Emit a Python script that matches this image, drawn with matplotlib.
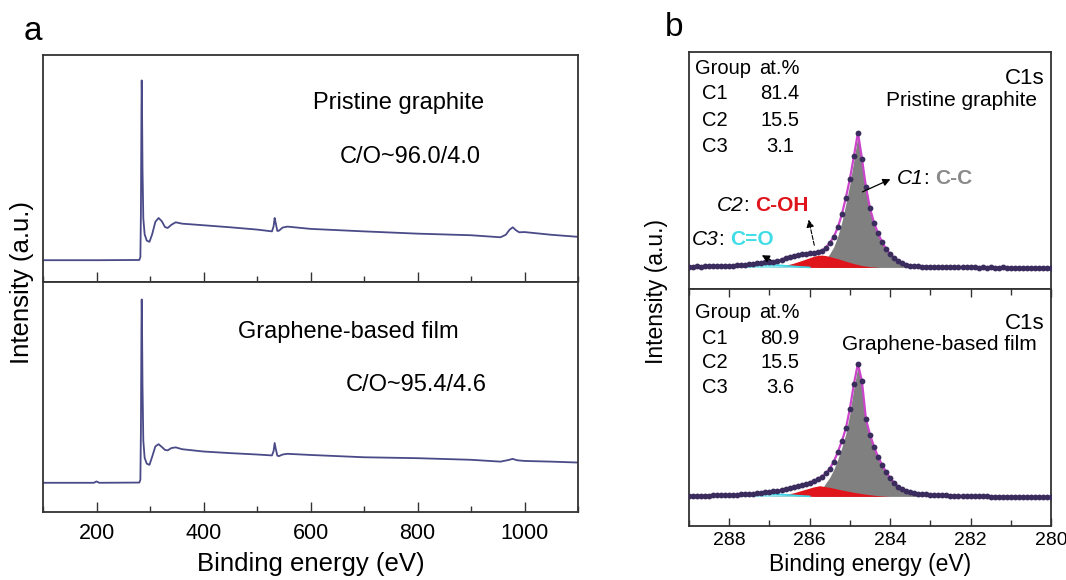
import numpy as np
import matplotlib
matplotlib.use('Agg')
import matplotlib.pyplot as plt
from matplotlib.ticker import MultipleLocator
from matplotlib.offsetbox import TextArea, HPacker, AnnotationBbox

plt.rcParams['font.family'] = ['Liberation Sans', 'DejaVu Sans']

# ---- panel a: survey spectra (intensity in % of panel height) ----
survey_top_ev = [100, 200, 280, 282, 283, 284, 284.5, 285, 286, 287.5, 290, 294, 299, 304, 310,
                 316, 322, 328, 333, 340, 348, 360, 400, 450, 500, 528, 531, 533, 535, 538,
                 541, 548, 557, 600, 700, 800, 900, 955, 965, 972, 978, 984, 990, 1000, 1050, 1100]
survey_top_int = [9.6, 9.6, 9.7, 11.0, 30.0, 75.0, 88.8, 80.0, 50.0, 28.0, 21.0, 18.2, 17.7, 21.0, 26.5,
                  28.2, 26.8, 24.2, 23.8, 25.2, 26.3, 25.7, 25.0, 24.1, 23.1, 22.3, 24.5, 28.2, 26.0, 22.5,
                  22.6, 24.0, 24.4, 23.4, 22.3, 21.3, 20.6, 19.7, 20.8, 23.0, 24.1, 22.8, 21.9, 22.0, 20.8, 19.9]

survey_bot_ev = [100, 195, 200, 205, 280, 282, 283, 284, 284.5, 285, 286, 287.5, 290, 294, 299, 304, 310,
                 316, 322, 328, 333, 340, 348, 360, 400, 450, 500, 528, 531, 533, 535, 538,
                 541, 548, 557, 600, 700, 800, 900, 955, 970, 978, 986, 1000, 1050, 1100]
survey_bot_int = [12.7, 12.7, 13.3, 12.7, 12.8, 14.0, 35.0, 80.0, 92.4, 84.0, 55.0, 31.0, 23.5, 21.0, 20.5, 24.0, 28.5,
                  29.5, 28.3, 27.0, 26.8, 27.8, 28.1, 27.3, 26.3, 25.6, 25.0, 24.6, 26.5, 30.0, 27.5, 24.5,
                  24.3, 25.0, 25.3, 24.8, 23.8, 23.4, 22.7, 21.9, 22.6, 23.1, 22.5, 22.2, 21.9, 21.5]

survey_labels = ['Pristine graphite', 'Graphene-based film']
co_ratios = ['C/O~96.0/4.0', 'C/O~95.4/4.6']

# ---- panel b: C1s high resolution, 289.0 -> 280.0 eV, 0.1 eV step ----
c1s_ev = np.round(np.arange(289.0, 279.95, -0.1), 1)

c1s_top = [9.4, 9.4, 9.5, 9.4, 9.5, 9.6, 9.5, 9.6, 9.7, 9.7,
           9.8, 9.9, 10.0, 10.1, 10.3, 10.4, 10.6, 10.8, 11.0, 11.2,
           11.4, 11.6, 11.9, 12.3, 13.2, 13.6, 14.0, 14.3, 14.6, 14.8,
           15.0, 15.2, 15.5, 16.2, 17.4, 19.5, 22.0, 26.0, 31.5, 38.5,
           46.5, 56.0, 66.0, 55.0, 43.0, 34.0, 28.0, 23.5, 19.8, 17.0,
           14.8, 13.2, 12.0, 11.0, 10.3, 9.9, 9.6, 9.5, 9.4, 9.3,
           9.3, 9.2, 9.3, 9.2, 9.2, 9.1, 9.2, 9.1, 9.1, 9.2,
           9.1, 9.1, 9.0, 9.1, 9.0, 9.1, 9.0, 9.0, 9.1, 9.0,
           9.0, 9.0, 8.9, 9.0, 9.0, 8.9, 9.0, 8.9, 8.9, 9.0,
           8.9]
c1s_bot = [12.7, 12.7, 12.8, 12.7, 12.8, 12.8, 12.9, 12.9, 12.9, 13.0,
           13.0, 13.1, 13.2, 13.3, 13.4, 13.5, 13.7, 13.8, 14.0, 14.2,
           14.4, 14.6, 14.9, 15.2, 15.5, 15.9, 16.3, 16.7, 17.2, 17.7,
           18.3, 19.0, 19.8, 20.8, 22.2, 24.2, 27.2, 31.2, 35.8, 41.2,
           49.5, 60.0, 68.5, 61.0, 45.0, 38.5, 33.5, 29.2, 25.8, 22.8,
           20.3, 18.2, 16.6, 15.5, 14.8, 14.3, 14.0, 13.7, 13.5, 13.3,
           13.2, 13.1, 13.0, 12.9, 12.9, 12.8, 12.8, 12.7, 12.7, 12.6,
           12.6, 12.6, 12.5, 12.5, 12.5, 12.4, 12.4, 12.4, 12.3, 12.3,
           12.3, 12.3, 12.2, 12.2, 12.2, 12.2, 12.1, 12.1, 12.1, 12.1,
           12.1]

bg_top = 9.1
bg_bot = 12.5

# fitted components
c1_top_ev = [285.8, 285.7, 285.6, 285.5, 285.4, 285.3, 285.2, 285.1, 285.0, 284.9, 284.8, 284.7, 284.6,
             284.5, 284.4, 284.3, 284.2, 284.1, 284.0, 283.9, 283.8, 283.7, 283.6, 283.5, 283.4, 283.3]
c1_top = [10.0, 11.0, 12.4, 14.9, 17.8, 22.3, 28.3, 35.9, 44.4, 54.4, 64.8, 54.2, 42.5,
          33.7, 27.9, 23.5, 19.8, 17.0, 14.8, 13.2, 12.0, 11.0, 10.3, 9.8, 9.4, 9.1]
c2_top_ev = [287.0, 286.8, 286.6, 286.4, 286.2, 286.0, 285.9, 285.8, 285.7, 285.6, 285.5, 285.3, 285.1,
             284.9, 284.7, 284.5, 284.3]
c2_top = [9.2, 9.5, 10.0, 10.9, 12.0, 13.2, 13.8, 14.2, 14.3, 14.1, 13.7, 12.8, 11.7,
          10.7, 9.9, 9.4, 9.2]
c3_top_ev = [288.0, 287.7, 287.4, 287.1, 286.9, 286.6, 286.3, 286.0]
c3_top = [9.1, 9.4, 9.8, 10.2, 10.2, 9.8, 9.4, 9.1]

c1_bot_ev = [285.9, 285.8, 285.7, 285.6, 285.5, 285.4, 285.3, 285.2, 285.1, 285.0, 284.9, 284.8, 284.7,
             284.6, 284.5, 284.4, 284.3, 284.2, 284.1, 284.0, 283.9, 283.8, 283.7, 283.6, 283.5, 283.4,
             283.3, 283.2]
c1_bot = [12.8, 13.8, 15.5, 18.1, 20.5, 23.9, 28.2, 33.2, 39.0, 47.6, 58.4, 67.2, 59.9,
          44.2, 37.9, 33.1, 29.0, 25.8, 22.8, 20.3, 18.2, 16.6, 15.5, 14.8, 14.3, 13.6,
          12.9, 12.5]
c2_bot_ev = [287.0, 286.7, 286.4, 286.1, 285.9, 285.75, 285.5, 285.2, 284.9, 284.6, 284.3, 284.0]
c2_bot = [12.6, 13.0, 14.0, 15.5, 16.5, 17.0, 16.3, 15.2, 14.2, 13.4, 12.8, 12.5]
c3_bot_ev = [288.0, 287.7, 287.4, 287.1, 286.9, 286.6, 286.3, 286.0]
c3_bot = [12.5, 12.8, 13.2, 13.5, 13.5, 13.2, 12.8, 12.5]

groups = ['C1', 'C2', 'C3']
at_top = ['81.4', '15.5', '3.1']
at_bot = ['80.9', '15.5', '3.6']

W, H = 1066, 580
fig = plt.figure(figsize=(W / 100, H / 100), dpi=100)


def px_axes(l, t, r, b):
    return fig.add_axes([l / W, 1 - b / H, (r - l) / W, (b - t) / H])


frame_c = '#333333'
line_c = '#4a4a88'


def style_frame(ax):
    for s in ax.spines.values():
        s.set_color(frame_c)
        s.set_linewidth(1.3)
    ax.tick_params(axis='y', left=False, right=False, labelleft=False)


# ---------------- panel a ----------------
axa1 = px_axes(43, 55, 578, 282)
axa2 = px_axes(43, 282, 578, 512)
for ax, ev, it in [(axa1, survey_top_ev, survey_top_int), (axa2, survey_bot_ev, survey_bot_int)]:
    ax.plot(ev, it, color=line_c, lw=1.3)
    ax.set_xlim(100, 1100)
    ax.set_ylim(0, 100)
    style_frame(ax)
    ax.xaxis.set_major_locator(MultipleLocator(200))
    ax.xaxis.set_minor_locator(MultipleLocator(100))
    ax.tick_params(axis='x', which='both', direction='in', top=False, bottom=True,
                   color=frame_c, width=1.0)
    ax.tick_params(axis='x', which='major', length=7)
    ax.tick_params(axis='x', which='minor', length=4)

axa1.tick_params(axis='x', labelbottom=False)
axa2.tick_params(axis='x', labelsize=15.5, pad=8)
axa2.set_xlabel('Binding energy (eV)', fontsize=18.5, labelpad=6)
fig.text(22 / W, 1 - 283 / H, 'Intensity (a.u.)', rotation=90, fontsize=18.5,
         ha='center', va='center')

axa1.text(0.505, 0.789, survey_labels[0], transform=axa1.transAxes, fontsize=17, va='center')
axa1.text(0.555, 0.551, co_ratios[0], transform=axa1.transAxes, fontsize=17, va='center')
axa2.text(0.364, 0.783, survey_labels[1], transform=axa2.transAxes, fontsize=17, va='center')
axa2.text(0.566, 0.552, co_ratios[1], transform=axa2.transAxes, fontsize=17, va='center')

# ---------------- panel b ----------------
axb1 = px_axes(689, 52, 1051, 289)
axb2 = px_axes(689, 289, 1051, 526)

panels_b = [
    (axb1, c1s_top, bg_top, c1_top_ev, c1_top, c2_top_ev, c2_top, c3_top_ev, c3_top),
    (axb2, c1s_bot, bg_bot, c1_bot_ev, c1_bot, c2_bot_ev, c2_bot, c3_bot_ev, c3_bot),
]
for ax, env, bg, x1, y1, x2, y2, x3, y3 in panels_b:
    ax.fill_between(x1, y1, bg, color='#808080', lw=0, zorder=2)
    ax.fill_between(x2, y2, bg, color='#e0141b', lw=0, zorder=3)
    ax.fill_between(x3, y3, bg, color='#8ee8f0', lw=0, zorder=3)
    ax.plot(x3, y3, color='#40d8e8', lw=1.2, zorder=3)
    ax.plot(c1s_ev, env, color='#cc44cc', lw=1.6, zorder=4)
    ax.plot(c1s_ev, env, 'o', ms=4.2, color='#3b2c5e', mec='none', zorder=5)
    ax.set_xlim(289, 280)
    ax.set_ylim(0, 100)
    style_frame(ax)
    ax.xaxis.set_major_locator(MultipleLocator(2))
    ax.xaxis.set_minor_locator(MultipleLocator(1))
    ax.tick_params(axis='x', which='both', direction='in', color=frame_c, width=1.0)
    ax.tick_params(axis='x', which='major', length=6)
    ax.tick_params(axis='x', which='minor', length=4)

axb1.tick_params(axis='x', which='both', bottom=False, top=False, labelbottom=False)
axb2.tick_params(axis='x', which='both', bottom=True, top=True, labelsize=14, pad=4)
axb2.set_xlabel('Binding energy (eV)', fontsize=16.5, labelpad=3)
fig.text(656 / W, 1 - 292 / H, 'Intensity (a.u.)', rotation=90, fontsize=16.5,
         ha='center', va='center')

tab_fs = 14.5
for ax, vals, ys, name, name_y in [
        (axb1, at_top, [0.932, 0.827, 0.713, 0.603], survey_labels[0], 0.797),
        (axb2, at_bot, [0.899, 0.793, 0.688, 0.586], survey_labels[1], 0.764)]:
    ax.text(0.0166, ys[0], 'Group', transform=ax.transAxes, fontsize=tab_fs, va='center')
    ax.text(0.251, ys[0], 'at.%', transform=ax.transAxes, fontsize=tab_fs, va='center', ha='center')
    for g, v, yy in zip(groups, vals, ys[1:]):
        ax.text(0.036, yy, g, transform=ax.transAxes, fontsize=tab_fs, va='center')
        ax.text(0.251, yy, v, transform=ax.transAxes, fontsize=tab_fs, va='center', ha='center')
    ax.text(0.983, name_y + 0.09, 'C1s', transform=ax.transAxes, fontsize=16, va='center', ha='right')
    ax.text(0.96, name_y, name, transform=ax.transAxes, fontsize=15, va='center', ha='right')


def label_box(ax, x, y, parts):
    areas = [TextArea(t, textprops=dict(fontsize=15, **kw)) for t, kw in parts]
    box = HPacker(children=areas, align='baseline', pad=0, sep=0)
    ab = AnnotationBbox(box, (x, y), xycoords='axes fraction', box_alignment=(0, 0.5),
                        frameon=False, pad=0, zorder=6)
    ax.add_artist(ab)


label_box(axb1, 0.575, 0.468, [('C1', dict(style='italic')), (': ', {}),
                               ('C-C', dict(color='#8a8a8a', weight='bold'))])
label_box(axb1, 0.077, 0.354, [('C2', dict(style='italic')), (': ', {}),
                               ('C-OH', dict(color='#e0141b', weight='bold'))])
label_box(axb1, 0.008, 0.207, [('C3', dict(style='italic')), (': ', {}),
                               ('C=O', dict(color='#40dde8', weight='bold'))])

axb1.annotate('', xy=(283.93, 46.8), xytext=(284.75, 40.5),
              arrowprops=dict(arrowstyle='-|>', color='k', lw=0.9, mutation_scale=11), zorder=6)
axb1.annotate('', xy=(286.04, 30.4), xytext=(285.87, 17.3),
              arrowprops=dict(arrowstyle='-|>', color='k', lw=0.8, ls='--', mutation_scale=11), zorder=6)
axb1.annotate('', xy=(287.25, 14.8), xytext=(286.9, 11.6),
              arrowprops=dict(arrowstyle='-|>', color='k', lw=0.9, mutation_scale=11), zorder=6)

fig.text(33 / W, 1 - 31 / H, 'a', fontsize=24, ha='center', va='center')
fig.text(674 / W, 1 - 28 / H, 'b', fontsize=24, ha='center', va='center')

fig.savefig('out.png', dpi=100)
